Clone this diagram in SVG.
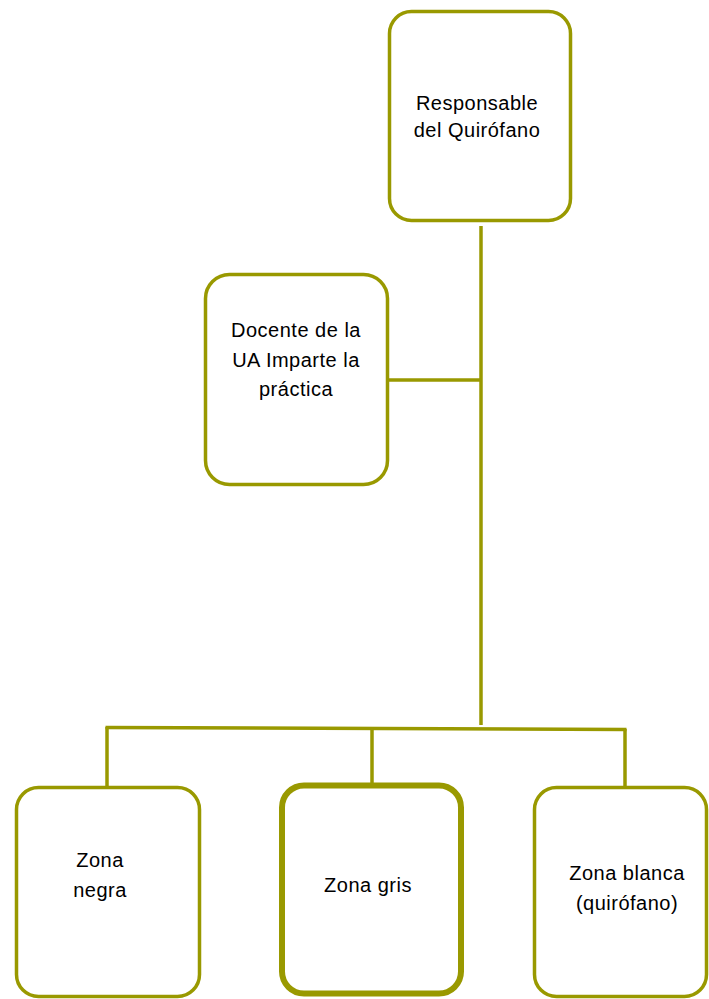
<svg xmlns="http://www.w3.org/2000/svg" width="709" height="999" viewBox="0 0 709 999">
  <style>
    .box { fill: #ffffff; stroke: #999900; stroke-width: 3.5; }
    .thick { stroke-width: 6; }
    .conn { fill: none; stroke: #999900; stroke-width: 3.5; }
    .lbl { font-family: "Liberation Sans", Arial, sans-serif; font-size: 20px; letter-spacing: 0.5px; fill: #000000; text-anchor: middle; }
  </style>
  <rect width="709" height="999" fill="#ffffff"/>
  <g id="connectors">
    <line class="conn" x1="481" y1="226" x2="481" y2="725"/>
    <line class="conn" x1="388" y1="380" x2="481" y2="380"/>
    <line class="conn" x1="105.5" y1="727.5" x2="626.5" y2="729.5"/>
    <line class="conn" x1="107" y1="727" x2="107" y2="787"/>
    <line class="conn" x1="372" y1="728" x2="372" y2="783"/>
    <line class="conn" x1="625" y1="729" x2="625" y2="787"/>
  </g>
  <g id="responsable">
    <rect class="box" x="389.5" y="11.5" width="181" height="209" rx="22"/>
    <text class="lbl" x="477" y="110">Responsable</text>
    <text class="lbl" x="477" y="137">del Quirófano</text>
  </g>
  <g id="docente">
    <rect class="box" x="205.5" y="274.5" width="182" height="210" rx="24"/>
    <text class="lbl" x="296" y="337">Docente de la</text>
    <text class="lbl" x="296" y="367">UA Imparte la</text>
    <text class="lbl" x="296" y="396">práctica</text>
  </g>
  <g id="zona-negra">
    <rect class="box" x="16.5" y="787.5" width="183" height="209" rx="22"/>
    <text class="lbl" x="100" y="867">Zona</text>
    <text class="lbl" x="100" y="897">negra</text>
  </g>
  <g id="zona-gris">
    <rect class="box thick" x="282" y="785.5" width="179" height="208" rx="22"/>
    <text class="lbl" x="368" y="892">Zona gris</text>
  </g>
  <g id="zona-blanca">
    <rect class="box" x="534.5" y="787.5" width="172" height="209" rx="22"/>
    <text class="lbl" x="627" y="880">Zona blanca</text>
    <text class="lbl" x="627" y="910">(quirófano)</text>
  </g>
</svg>
